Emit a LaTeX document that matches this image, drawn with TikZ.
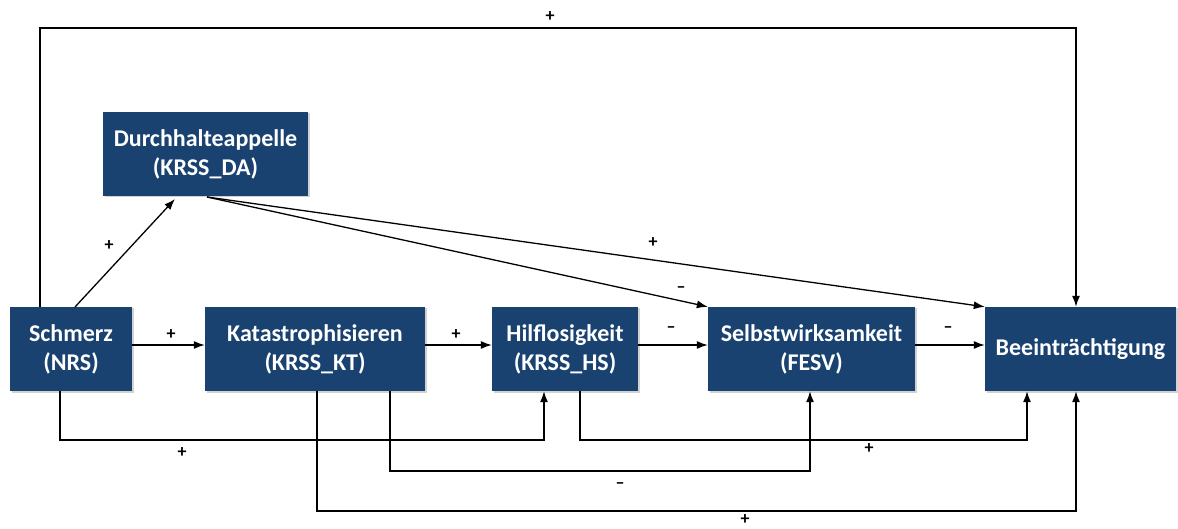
\documentclass[tikz,border=0pt]{standalone}
\usepackage{fontspec}
\setmainfont{Carlito}
\usetikzlibrary{arrows.meta,shadows,calc}
\definecolor{boxblue}{RGB}{25,66,112}
\begin{document}
\begin{tikzpicture}[x=1pt,y=-1pt,
  box/.style={draw=none,fill=boxblue,text=white,font=\bfseries\fontsize{24}{29}\selectfont,
    align=center,inner sep=0pt,minimum height=84pt,
    drop shadow={opacity=0.35,shadow xshift=1.5pt,shadow yshift=-1.5pt}},
  arr/.style={draw=black,line width=1.3pt,-{Latex[length=11pt,width=8pt]}},
  sgn/.style={font=\bfseries\fontsize{18}{18}\selectfont,inner sep=0pt}]
\useasboundingbox (0,0) rectangle (1178,529);
\fill[white] (0,0) rectangle (1178,529);
% boxes
\node[box,minimum width=205pt] (DA) at (205.5,154) {Durchhalteappelle\\(KRSS\_DA)};
\node[box,minimum width=122pt] (S) at (71,349) {Schmerz\\(NRS)};
\node[box,minimum width=220pt] (K) at (315,349) {Katastrophisieren\\(KRSS\_KT)};
\node[box,minimum width=146pt] (H) at (565,349) {Hilflosigkeit\\(KRSS\_HS)};
\node[box,minimum width=207pt] (F) at (811.5,349) {Selbstwirksamkeit\\(FESV)};
\node[box,minimum width=191pt] (B) at (1080.5,349) {Beeinträchtigung};
% coordinates
\coordinate (top) at (40,28);
\coordinate (topR) at (1076,28);
\coordinate (sb) at (60,440);
\coordinate (hb) at (544,440);
\coordinate (k1) at (390,471);
\coordinate (k1e) at (810,471);
\coordinate (k2) at (317,511);
\coordinate (k2e) at (1076,511);
\coordinate (h2) at (580,440);
\coordinate (h2e) at (1027,440);
\coordinate (daout) at (207,197);
\coordinate (sda) at (75,307);
\coordinate (daIn) at (175,199);
% top feedback
\draw[arr] (top |- S.north) -- (top) -- (topR) -- (topR |- B.north);
\node[sgn] (l1) at (550,17) {+};
% Schmerz -> DA
\draw[arr] (sda) -- (daIn);
\node[sgn] (l2) at (109,246) {+};
% main chain
\draw[arr] (S.east |- 0,345) -- (K.west |- 0,345);
\node[sgn] (l3) at (171,335) {+};
\draw[arr] (K.east |- 0,345) -- (H.west |- 0,345);
\node[sgn] (l4) at (456,335) {+};
\draw[arr] (H.east |- 0,345) -- (F.west |- 0,345);
\node[sgn] (l5) at (671,330) {–};
\draw[arr] (F.east |- 0,345) -- (B.west |- 0,345);
\node[sgn] (l6) at (948,330) {–};
% DA outputs
\draw[arr] (daout) -- (F.north west);
\node[sgn] (l7) at (681,290) {–};
\draw[arr] (daout) -- (B.north west);
\node[sgn] (l8) at (653,243) {+};
% bottom connectors
\draw[arr] (sb |- S.south) -- (sb) -- (hb) -- (hb |- H.south);
\node[sgn] (l9) at (182,453) {+};
\draw[arr] (k1 |- K.south) -- (k1) -- (k1e) -- (k1e |- F.south);
\node[sgn] (l10) at (620,486) {–};
\draw[arr] (k2 |- K.south) -- (k2) -- (k2e) -- (k2e |- B.south);
\node[sgn] (l11) at (745,520) {+};
\draw[arr] (h2 |- H.south) -- (h2) -- (h2e) -- (h2e |- B.south);
\node[sgn] (l12) at (869,449) {+};
\end{tikzpicture}
\end{document}
